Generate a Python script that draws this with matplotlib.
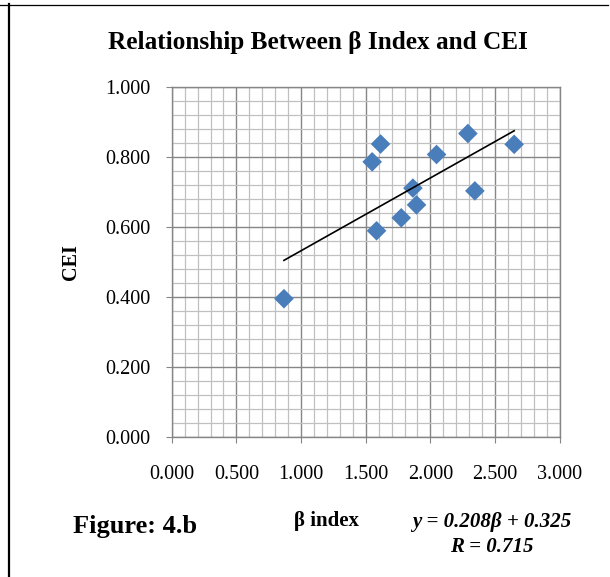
import matplotlib
matplotlib.use("Agg")
import matplotlib.pyplot as plt
from matplotlib.lines import Line2D
from matplotlib.ticker import MultipleLocator, FormatStrFormatter
import numpy as np

# Data
beta_index = [0.868, 1.550, 1.615, 1.584, 1.775, 1.865, 1.893, 2.048, 2.290, 2.344, 2.648]
cei = [0.396, 0.787, 0.838, 0.590, 0.627, 0.712, 0.664, 0.808, 0.868, 0.704, 0.837]
slope = 0.208
intercept = 0.325
r_value = 0.715

title = "Relationship Between \u03b2 Index and CEI"
x_label = "\u03b2 index"
y_label = "CEI"
figure_label = "Figure: 4.b"

W, H, DPI = 610, 577, 100
fig = plt.figure(figsize=(W / DPI, H / DPI), dpi=DPI)
fig.patch.set_facecolor("white")

serif = ["Liberation Serif", "DejaVu Serif"]
plt.rcParams["font.family"] = serif

left, right = 171.7 / W, 559.7 / W
bottom, top = 1 - 437.3 / H, 1 - 87.3 / H
ax = fig.add_axes([left, bottom, right - left, top - bottom])

major_c = "#868686"
minor_c = "#c0c0c0"

ax.set_xlim(0, 3.0)
ax.set_ylim(0, 1.0)
ax.xaxis.set_major_locator(MultipleLocator(0.5))
ax.xaxis.set_minor_locator(MultipleLocator(0.1))
ax.yaxis.set_major_locator(MultipleLocator(0.2))
ax.yaxis.set_minor_locator(MultipleLocator(0.04))
ax.xaxis.set_major_formatter(FormatStrFormatter("%.3f"))
ax.yaxis.set_major_formatter(FormatStrFormatter("%.3f"))

ax.grid(which="major", color=major_c, linewidth=1.0)
ax.grid(which="minor", color=minor_c, linewidth=0.9)
ax.set_axisbelow(True)

for s in ax.spines.values():
    s.set_color(major_c)
    s.set_linewidth(1.0)

ax.tick_params(axis="both", which="major", direction="out", length=4,
               color=major_c, labelsize=14.5, labelcolor="black")
ax.tick_params(axis="y", which="major", pad=11.5)
ax.tick_params(axis="x", which="major", pad=16)
ax.tick_params(which="minor", length=0)

ax.scatter(beta_index, cei, marker="D", s=10 ** 2, color="#4a7ebb",
           edgecolors="none", zorder=3)

xs = np.array([min(beta_index), max(beta_index)])
ax.plot(xs, slope * xs + intercept, color="black", linewidth=1.2, zorder=4)

fig.text(318 / W, 1 - 43 / H, title, ha="center", va="center",
         fontsize=18.2, fontweight="bold", family=serif)
fig.text(71 / W, 1 - 262 / H, y_label, ha="center", va="center",
         rotation=90, fontsize=14.5, fontweight="bold", family=serif)
fig.text(72.7 / W, 1 - 527 / H, figure_label, ha="left", va="center",
         fontsize=19, fontweight="bold", family=serif)
fig.text(326 / W, 1 - 521 / H, x_label, ha="center", va="center",
         fontsize=15, fontweight="bold", family=serif)
fig.text(492 / W, 1 - 522 / H, f"y = {slope:.3f}\u03b2 + {intercept:.3f}",
         ha="center", va="center", fontsize=15, fontweight="bold",
         style="italic", family=serif)
fig.text(492 / W, 1 - 546.5 / H, f"R = {r_value:.3f}",
         ha="center", va="center", fontsize=15, fontweight="bold",
         style="italic", family=serif)

# Page border lines
fig.add_artist(Line2D([0, 608 / W], [1 - 4.7 / H, 1 - 4.7 / H],
                      transform=fig.transFigure, color="black", linewidth=0.9))
fig.add_artist(Line2D([9.3 / W, 9.3 / W], [1 - 4.2 / H, 0],
                      transform=fig.transFigure, color="black", linewidth=1.6))

fig.savefig("out.png", dpi=DPI, facecolor="white")
